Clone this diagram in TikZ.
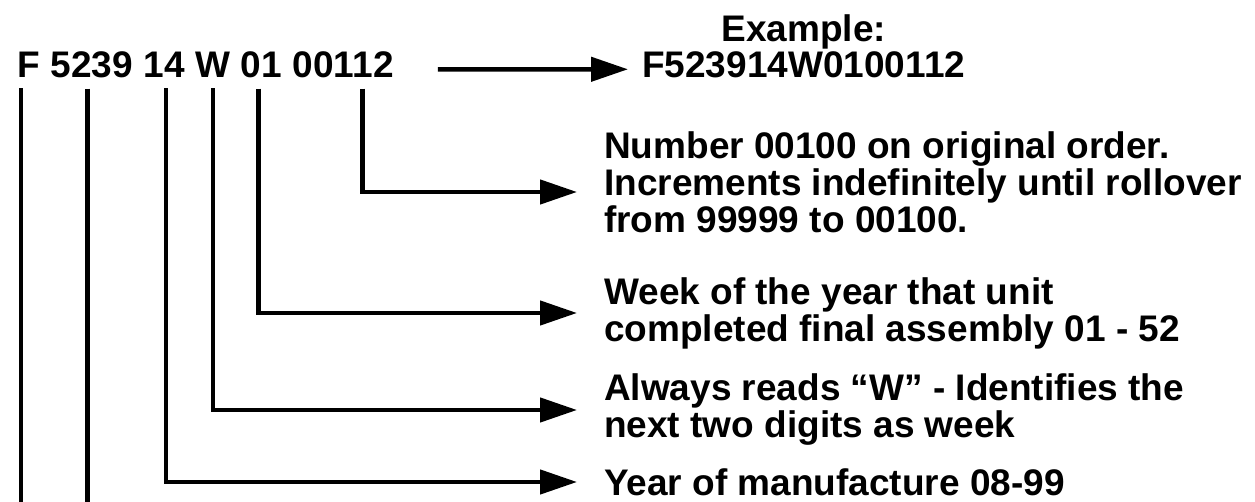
\documentclass[tikz,border=0pt]{standalone}
\usepackage{fontspec}
\setmainfont{Liberation Sans}
\usetikzlibrary{positioning, arrows.meta}

\tikzset{
  code/.style={font=\fontsize{37}{37}\selectfont\bfseries, inner sep=0pt},
  note/.style={font=\fontsize{37}{37}\selectfont\bfseries, inner sep=0pt, align=left, anchor=west},
  tick/.style={line width=4.5pt},
  lead/.style={line width=4.5pt, -{Triangle[length=37pt,width=24pt]}},
}

\begin{document}
\begin{tikzpicture}[x=1pt, y=-1pt]
  \useasboundingbox (0,0) rectangle (1255,502);

  % serial number, split into its fields
  \node[code, anchor=base west] (kF) at (17,78) {F};
  \node[code, right=10.3pt of kF.base east, anchor=base west] (kModel) {5239};
  \node[code, right=10.3pt of kModel.base east, anchor=base west] (kYear) {14};
  \node[code, right=10.3pt of kYear.base east, anchor=base west] (kW) {W};
  \node[code, right=10.3pt of kW.base east, anchor=base west] (kWeek) {01};
  \node[code, right=10.3pt of kWeek.base east, anchor=base west] (kSeq) {00112};

  % example
  \node[code, anchor=base west] (exCode) at (642,78) {F523914W0100112};
  \node[code, above=3pt of exCode] (exHead) {Example:};

  % explanations
  \node[note] (dSeq) at (604,182) {Number 00100 on original order.\\
    Increments indefinitely until rollover\\from 99999 to 00100.};
  \node[note] (dWeek) at (604,313) {Week of the year that unit\\
    completed final assembly 01 - 52};
  \node[note] (dW) at (604,410) {Always reads “W” - Identifies the\\
    next two digits as week};
  \node[note] (dYear) at (604,482) {Year of manufacture 08-99};

  \draw[lead] ([xshift=44pt,yshift=-4pt]kSeq.east) -- ([xshift=-14pt,yshift=-4pt]exCode.west);

  \draw[lead] ([xshift=19pt,yshift=-10pt]kSeq.south) |- ([xshift=-27pt,yshift=-10pt]dSeq.west);
  \draw[lead] ([xshift=-3pt,yshift=-10pt]kWeek.south) |- ([xshift=-27pt]dWeek.west);
  \draw[lead] ([yshift=-10pt]kW.south) |- ([xshift=-27pt]dW.west);
  \draw[lead] ([xshift=2pt,yshift=-10pt]kYear.south) |- ([xshift=-27pt]dYear.west);

  % F and model lines run off the bottom
  \draw[tick] ([xshift=4pt,yshift=-10pt]kF.south west) -- ++(0,414);
  \draw[tick] ([xshift=-4pt,yshift=-10pt]kModel.south) -- ++(0,414);
\end{tikzpicture}
\end{document}
